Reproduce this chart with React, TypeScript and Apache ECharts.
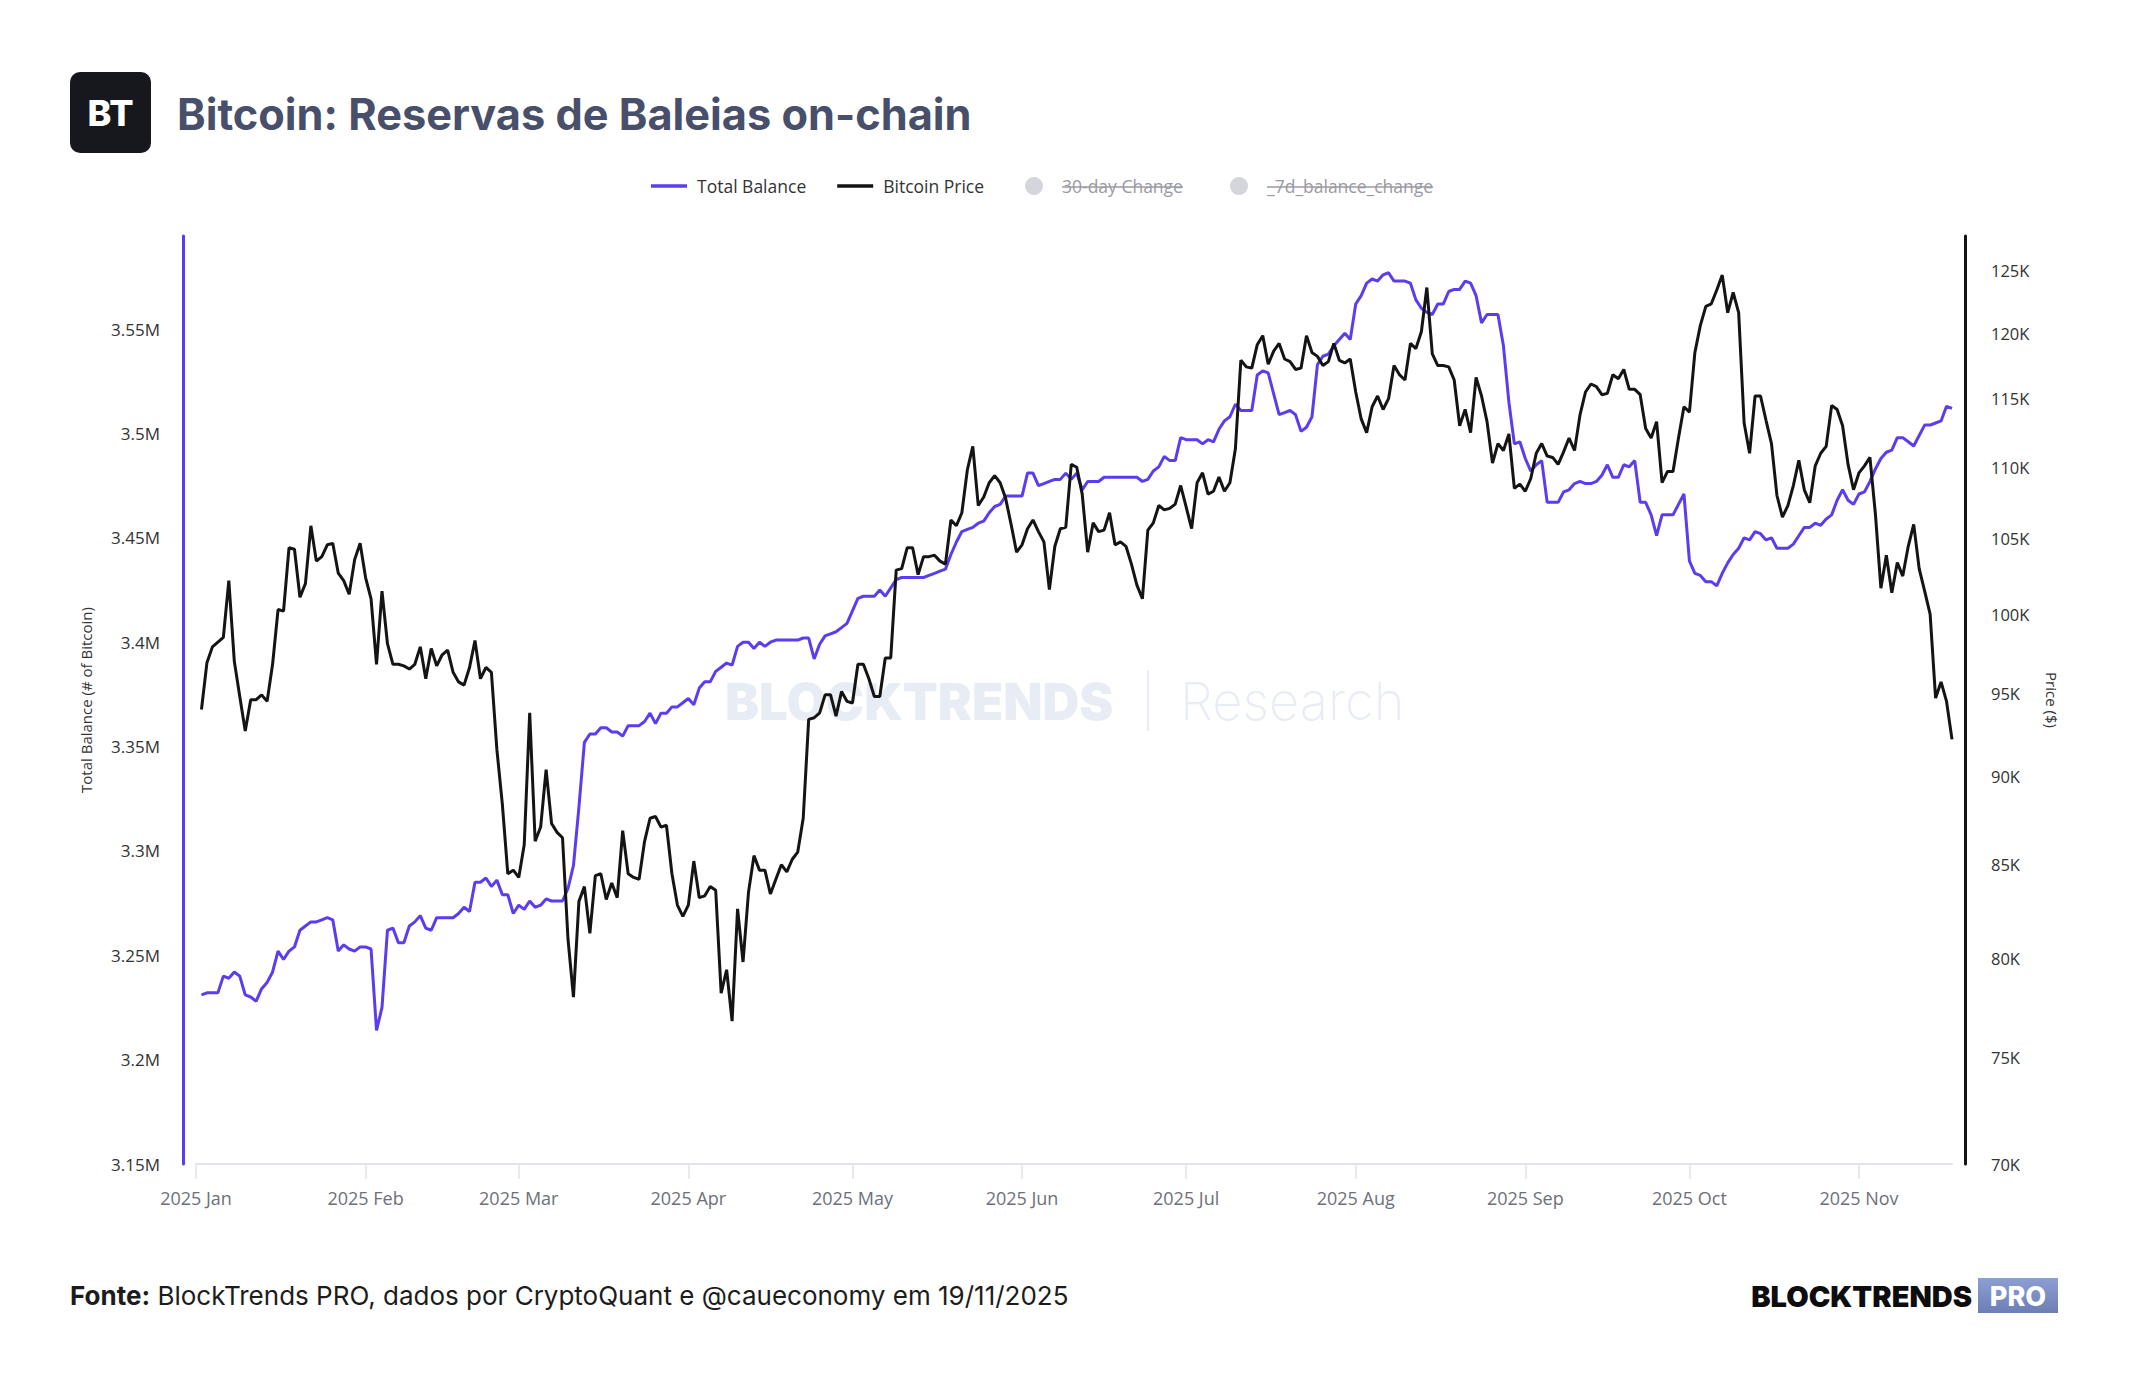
import React, { useEffect, useRef } from "react";
import * as echarts from "echarts";

// Daily whale reserve (millions of BTC) and BTC price (thousands of USD), from 2025-01-02 to 2025-11-18
const totalBalanceM = [
  3.231, 3.232, 3.232, 3.232, 3.240, 3.239, 3.242, 3.240, 3.231, 3.230,
  3.228, 3.234, 3.237, 3.242, 3.252, 3.248, 3.252, 3.254, 3.262, 3.264,
  3.266, 3.266, 3.267, 3.268, 3.267, 3.252, 3.255, 3.253, 3.252, 3.254,
  3.254, 3.253, 3.214, 3.225, 3.262, 3.263, 3.256, 3.256, 3.264, 3.266,
  3.269, 3.263, 3.262, 3.268, 3.268, 3.268, 3.268, 3.270, 3.273, 3.271,
  3.285, 3.285, 3.287, 3.283, 3.286, 3.279, 3.279, 3.270, 3.274, 3.272,
  3.276, 3.273, 3.274, 3.277, 3.276, 3.276, 3.276, 3.282, 3.293, 3.321,
  3.352, 3.356, 3.356, 3.359, 3.359, 3.357, 3.357, 3.355, 3.360, 3.360,
  3.360, 3.362, 3.366, 3.361, 3.366, 3.366, 3.369, 3.369, 3.371, 3.373,
  3.370, 3.378, 3.381, 3.381, 3.386, 3.388, 3.390, 3.389, 3.398, 3.400,
  3.400, 3.397, 3.400, 3.398, 3.400, 3.401, 3.401, 3.401, 3.401, 3.401,
  3.402, 3.402, 3.392, 3.399, 3.403, 3.404, 3.405, 3.407, 3.409, 3.415,
  3.421, 3.422, 3.422, 3.422, 3.425, 3.422, 3.426, 3.430, 3.431, 3.431,
  3.431, 3.431, 3.431, 3.432, 3.433, 3.434, 3.435, 3.442, 3.448, 3.453,
  3.454, 3.455, 3.457, 3.458, 3.462, 3.465, 3.466, 3.470, 3.470, 3.470,
  3.470, 3.481, 3.481, 3.475, 3.476, 3.477, 3.478, 3.478, 3.481, 3.478,
  3.481, 3.473, 3.477, 3.477, 3.477, 3.479, 3.479, 3.479, 3.479, 3.479,
  3.479, 3.479, 3.477, 3.478, 3.482, 3.484, 3.489, 3.487, 3.487, 3.498,
  3.497, 3.497, 3.497, 3.495, 3.497, 3.496, 3.502, 3.506, 3.508, 3.514,
  3.511, 3.511, 3.511, 3.528, 3.530, 3.529, 3.519, 3.509, 3.510, 3.511,
  3.509, 3.501, 3.503, 3.508, 3.533, 3.537, 3.538, 3.542, 3.545, 3.548,
  3.545, 3.562, 3.566, 3.572, 3.574, 3.573, 3.576, 3.577, 3.573, 3.573,
  3.573, 3.572, 3.564, 3.560, 3.558, 3.557, 3.562, 3.562, 3.568, 3.569,
  3.569, 3.573, 3.572, 3.566, 3.553, 3.557, 3.557, 3.557, 3.542, 3.515,
  3.495, 3.496, 3.488, 3.482, 3.485, 3.487, 3.467, 3.467, 3.467, 3.472,
  3.473, 3.476, 3.477, 3.476, 3.476, 3.477, 3.480, 3.485, 3.479, 3.479,
  3.485, 3.484, 3.487, 3.467, 3.467, 3.461, 3.451, 3.461, 3.461, 3.461,
  3.466, 3.471, 3.439, 3.433, 3.432, 3.429, 3.429, 3.427, 3.433, 3.438,
  3.442, 3.445, 3.450, 3.449, 3.453, 3.452, 3.449, 3.450, 3.445, 3.445,
  3.445, 3.447, 3.451, 3.455, 3.455, 3.457, 3.456, 3.459, 3.461, 3.468,
  3.473, 3.468, 3.466, 3.471, 3.472, 3.477, 3.483, 3.488, 3.491, 3.492,
  3.498, 3.498, 3.496, 3.494, 3.499, 3.504, 3.504, 3.505, 3.506, 3.513,
  3.512,
];

const bitcoinPriceK = [
  94.0, 96.9, 97.9, 98.2, 98.5, 102.2, 97.0, 94.8, 92.7, 94.6,
  94.6, 94.9, 94.5, 96.8, 100.3, 100.2, 104.4, 104.3, 101.1, 102.0,
  105.9, 103.5, 103.8, 104.6, 104.7, 102.7, 102.2, 101.3, 103.6, 104.7,
  102.4, 101.0, 96.8, 101.5, 98.1, 96.8, 96.8, 96.7, 96.5, 96.8,
  97.9, 95.9, 97.8, 96.7, 97.4, 97.7, 96.3, 95.7, 95.5, 96.6,
  98.3, 95.9, 96.6, 96.3, 91.6, 88.4, 84.5, 84.7, 84.3, 86.1,
  93.8, 86.3, 87.1, 90.4, 87.3, 86.8, 86.5, 81.0, 78.0, 83.0,
  83.8, 81.3, 84.4, 84.5, 83.1, 84.0, 83.2, 86.9, 84.5, 84.3,
  84.2, 86.3, 87.6, 87.7, 87.1, 87.2, 84.5, 82.8, 82.2, 82.8,
  85.2, 83.2, 83.3, 83.8, 83.6, 78.2, 79.4, 76.8, 82.6, 79.8,
  83.5, 85.5, 84.7, 84.7, 83.4, 84.2, 85.0, 84.6, 85.3, 85.7,
  87.6, 93.4, 93.5, 93.8, 94.9, 94.9, 93.6, 95.1, 94.5, 94.4,
  96.8, 96.8, 95.9, 94.8, 94.8, 97.2, 97.2, 102.9, 103.0, 104.4,
  104.4, 102.6, 103.8, 103.8, 103.9, 103.5, 103.3, 106.3, 105.9, 106.8,
  109.8, 111.5, 107.3, 107.9, 108.9, 109.4, 108.9, 107.8, 106.0, 104.1,
  104.6, 105.7, 106.3, 105.5, 104.8, 101.6, 104.5, 105.7, 105.8, 110.2,
  110.0, 108.1, 104.1, 106.1, 105.5, 105.6, 106.8, 104.6, 104.8, 104.5,
  103.3, 101.9, 101.0, 105.6, 106.1, 107.3, 107.0, 107.1, 107.4, 108.7,
  107.2, 105.7, 108.9, 109.6, 108.1, 108.3, 109.3, 108.3, 108.9, 111.3,
  117.9, 117.4, 117.3, 119.1, 119.8, 117.6, 118.6, 119.2, 118.0, 117.8,
  117.2, 117.3, 119.8, 118.5, 118.2, 117.5, 117.8, 119.2, 117.9, 117.7,
  118.0, 115.5, 113.5, 112.5, 114.4, 115.2, 114.2, 115.0, 117.5, 116.8,
  116.4, 119.2, 118.8, 120.1, 123.6, 118.4, 117.5, 117.5, 117.4, 116.4,
  113.0, 114.2, 112.5, 116.6, 115.2, 113.3, 110.3, 111.7, 111.2, 112.4,
  108.5, 108.8, 108.3, 109.2, 111.0, 111.7, 110.8, 110.7, 110.2, 111.1,
  112.1, 111.2, 113.8, 115.5, 116.1, 115.9, 115.3, 115.4, 116.8, 116.5,
  117.2, 115.7, 115.7, 115.3, 112.8, 112.1, 113.3, 108.9, 109.7, 109.7,
  112.1, 114.4, 114.0, 118.5, 120.6, 122.1, 122.3, 123.4, 124.6, 121.6,
  123.2, 121.6, 113.2, 111.0, 115.2, 115.2, 113.4, 111.7, 108.0, 106.5,
  107.3, 108.7, 110.5, 108.4, 107.5, 110.1, 111.0, 111.5, 114.5, 114.2,
  113.0, 110.2, 108.4, 109.6, 110.1, 110.7, 106.7, 101.7, 103.9, 101.4,
  103.4, 102.5, 104.5, 106.0, 103.0, 101.5, 100.0, 94.7, 95.7, 94.5,
  92.2,
];

const firstDay = Date.UTC(2025, 0, 2);
const dayMs = 86400000;

// x axis: month starts and their labels
const monthTicks = [
  Date.UTC(2025, 0, 1), Date.UTC(2025, 1, 1), Date.UTC(2025, 2, 1), Date.UTC(2025, 3, 1),
  Date.UTC(2025, 4, 1), Date.UTC(2025, 5, 1), Date.UTC(2025, 6, 1), Date.UTC(2025, 7, 1),
  Date.UTC(2025, 8, 1), Date.UTC(2025, 9, 1), Date.UTC(2025, 10, 1),
];
const monthLabels = [
  "2025 Jan", "2025 Feb", "2025 Mar", "2025 Apr", "2025 May", "2025 Jun",
  "2025 Jul", "2025 Aug", "2025 Sep", "2025 Oct", "2025 Nov",
];
const xRange = [Date.UTC(2025, 0, 1), Date.UTC(2025, 10, 18)];

// left axis (millions of BTC) and right log axis (thousands of USD)
const balanceRange = [3.15, 3.5946];
const balanceStep = 0.05;
const priceTicksK = [70, 75, 80, 85, 90, 95, 100, 105, 110, 115, 120, 125];
const priceRange = [70, 127.8];

const seriesNames = ["Total Balance", "Bitcoin Price", "30-day Change", "_7d_balance_change"];
const hiddenNames = ["30-day Change", "_7d_balance_change"];

const PURPLE = "#5b3cf0";
const INK = "#141414";
const LABEL_FONT = "Open Sans";
const BRAND_FONT = "Inter";
const MARK = "#e8edf5";
const OFF_TEXT = "#9a9aa2";
const LINE_ICON = "path://M0 0H36V3.5H0Z";

// legend row: three groups, each starting at its own left edge
const legendGroups = [
  { left: 651, names: ["Total Balance", "Bitcoin Price"] },
  { left: 1016, names: ["30-day Change"] },
  { left: 1221, names: ["_7d_balance_change"] },
];
const LEGEND_ICON_W = 36;
const LEGEND_ICON_H = 18;
const LEGEND_TEXT_OFFSET = 10;
const LEGEND_MID_Y = 186;
const LEGEND_FONT_SIZE = 17.5;

function textWidth(text: string) {
  const ctx = document.createElement("canvas").getContext("2d");
  if (!ctx) return text.length * 8;
  ctx.font = `${LEGEND_FONT_SIZE}px "${LABEL_FONT}"`;
  return ctx.measureText(text).width;
}

export default function App() {
  const ref = useRef<HTMLDivElement>(null);

  useEffect(() => {
    if (!ref.current) return;
    const chart = echarts.init(ref.current, null, { renderer: "svg", width: 2144, height: 1400 });

    const balanceData = totalBalanceM.map((v, i) => [firstDay + i * dayMs, v]);
    const priceData = bitcoinPriceK.map((v, i) => [firstDay + i * dayMs, v]);

    const legends = legendGroups.map((g) => {
      const off = hiddenNames.includes(g.names[0]);
      // a round icon sits centred in its box, so the group's visible left edge moves inward
      const inset = off ? (LEGEND_ICON_W - LEGEND_ICON_H) / 2 : 0;
      return {
        left: g.left + inset,
        top: LEGEND_MID_Y - LEGEND_ICON_H / 2,
        padding: 0,
        itemWidth: LEGEND_ICON_W,
        itemHeight: LEGEND_ICON_H,
        itemGap: 31,
        inactiveColor: "#d5d5de",
        data: g.names.map((name) => ({ name, icon: off ? "circle" : LINE_ICON })),
        selected: Object.fromEntries(hiddenNames.map((n) => [n, false])),
        formatter: (name: string) => (hiddenNames.includes(name) ? `{off|${name}}` : name),
        textStyle: {
          fontFamily: LABEL_FONT,
          fontSize: LEGEND_FONT_SIZE,
          color: "#333333",
          padding: [0, 0, 0, LEGEND_TEXT_OFFSET - 5],
          rich: { off: { fontFamily: LABEL_FONT, fontSize: LEGEND_FONT_SIZE, color: OFF_TEXT } },
        },
      };
    });

    // strike-through lines over the hidden entries' labels
    const strikes = legendGroups
      .filter((g) => hiddenNames.includes(g.names[0]))
      .map((g) => {
        const x1 = g.left + LEGEND_ICON_W + LEGEND_TEXT_OFFSET;
        return {
          type: "line",
          z: 10,
          shape: { x1, y1: LEGEND_MID_Y + 1, x2: x1 + textWidth(g.names[0]), y2: LEGEND_MID_Y + 1 },
          style: { stroke: OFF_TEXT, lineWidth: 1.5 },
        };
      });

    chart.setOption({
      animation: false,
      backgroundColor: "#ffffff",
      title: {
        text: "Bitcoin: Reservas de Baleias on-chain",
        left: 172,
        top: 87,
        textStyle: { fontFamily: BRAND_FONT, fontWeight: 700, fontSize: 43.3, color: "#474f6b" },
      },
      legend: legends,
      grid: { left: 196, right: 192, top: 236, bottom: 236, containLabel: false },
      xAxis: {
        type: "value",
        min: xRange[0],
        max: xRange[1],
        axisLine: { show: true, lineStyle: { color: "#e0e3ea", width: 2 } },
        axisTick: { show: true, customValues: monthTicks, length: 15, lineStyle: { color: "#e0e3ea", width: 1.5 } },
        axisLabel: {
          customValues: monthTicks,
          formatter: (v: number) => {
            const i = monthTicks.indexOf(v);
            return i >= 0 ? monthLabels[i] : "";
          },
          color: "#6e7079",
          fontFamily: LABEL_FONT,
          fontSize: 18,
          margin: 25,
        },
        splitLine: { show: false },
      },
      yAxis: [
        {
          type: "value",
          position: "left",
          offset: 13,
          min: balanceRange[0],
          max: balanceRange[1],
          interval: balanceStep,
          name: "Total Balance (# of Bitcoin)",
          nameLocation: "middle",
          nameGap: 90,
          nameTextStyle: { fontFamily: LABEL_FONT, fontSize: 15, color: "#333333" },
          axisLine: { show: true, lineStyle: { color: PURPLE, width: 3 } },
          axisTick: { show: false },
          splitLine: { show: false },
          axisLabel: {
            showMaxLabel: false,
            formatter: (v: number) => `${parseFloat(v.toFixed(2))}M`,
            color: "#333333",
            fontFamily: LABEL_FONT,
            fontSize: 17,
            margin: 23,
          },
        },
        {
          type: "log",
          position: "right",
          offset: 13,
          min: priceRange[0],
          max: priceRange[1],
          name: "Price ($)",
          nameLocation: "middle",
          nameRotate: -90,
          nameGap: 79,
          nameTextStyle: { fontFamily: LABEL_FONT, fontSize: 15, color: "#333333" },
          axisLine: { show: true, lineStyle: { color: INK, width: 3 } },
          axisTick: { show: false },
          splitLine: { show: false },
          minorSplitLine: { show: false },
          axisLabel: {
            customValues: priceTicksK,
            formatter: (v: number) => `${Math.round(v)}K`,
            color: "#333333",
            fontFamily: LABEL_FONT,
            fontSize: 16.5,
            margin: 26,
          },
        },
      ],
      series: [
        {
          name: seriesNames[0],
          type: "line",
          yAxisIndex: 0,
          data: balanceData,
          symbol: "none",
          showSymbol: false,
          lineStyle: { color: PURPLE, width: 3 },
          itemStyle: { color: PURPLE },
          z: 3,
        },
        {
          name: seriesNames[1],
          type: "line",
          yAxisIndex: 1,
          data: priceData,
          symbol: "none",
          showSymbol: false,
          lineStyle: { color: INK, width: 3 },
          itemStyle: { color: INK },
          z: 4,
        },
        { name: seriesNames[2], type: "line", yAxisIndex: 0, data: [], symbol: "none", itemStyle: { color: "#7a8cff" } },
        { name: seriesNames[3], type: "line", yAxisIndex: 0, data: [], symbol: "none", itemStyle: { color: "#ff9f43" } },
      ],
      graphic: [
        // brand badge
        { type: "rect", shape: { x: 70, y: 72, width: 81, height: 81, r: 10 }, style: { fill: "#16181d" } },
        {
          type: "text",
          x: 110.5,
          y: 113,
          style: {
            text: "BT",
            fill: "#ffffff",
            fontFamily: BRAND_FONT,
            fontWeight: 800,
            fontSize: 36,
            align: "center",
            verticalAlign: "middle",
          },
        },
        // watermark
        {
          type: "text",
          x: 725,
          y: 701,
          z: 0,
          style: {
            text: "BLOCKTRENDS",
            fill: MARK,
            fontFamily: BRAND_FONT,
            fontWeight: 900,
            fontSize: 51,
            verticalAlign: "middle",
          },
        },
        { type: "line", z: 0, shape: { x1: 1148, y1: 670, x2: 1148, y2: 731 }, style: { stroke: MARK, lineWidth: 2 } },
        {
          type: "text",
          x: 1180,
          y: 701,
          z: 0,
          style: {
            text: "Research",
            fill: MARK,
            fontFamily: BRAND_FONT,
            fontWeight: 200,
            fontSize: 52.5,
            verticalAlign: "middle",
          },
        },
        ...strikes,
        // footer
        {
          type: "text",
          x: 70,
          y: 1295,
          style: {
            text: "{b|Fonte:} BlockTrends PRO, dados por CryptoQuant e @caueconomy em 19/11/2025",
            fill: "#1c1c1c",
            fontFamily: BRAND_FONT,
            fontSize: 26,
            verticalAlign: "middle",
            rich: { b: { fontFamily: BRAND_FONT, fontWeight: 700, fontSize: 26, fill: "#1c1c1c" } },
          },
        },
        {
          type: "text",
          x: 1972,
          y: 1296,
          style: {
            text: "BLOCKTRENDS",
            fill: "#0d0d0d",
            fontFamily: BRAND_FONT,
            fontWeight: 900,
            fontSize: 29,
            align: "right",
            verticalAlign: "middle",
          },
        },
        {
          type: "rect",
          shape: { x: 1978, y: 1278, width: 80, height: 35 },
          style: {
            fill: new echarts.graphic.LinearGradient(0, 0, 0, 1, [
              { offset: 0, color: "#8c9ed2" },
              { offset: 1, color: "#6c7eb4" },
            ]),
          },
        },
        {
          type: "text",
          x: 2018,
          y: 1296,
          style: {
            text: "PRO",
            fill: "#ffffff",
            fontFamily: BRAND_FONT,
            fontWeight: 800,
            fontSize: 27,
            align: "center",
            verticalAlign: "middle",
          },
        },
      ],
    });

    return () => chart.dispose();
  }, []);

  return (
    <div
      ref={ref}
      style={{ position: "fixed", left: 0, top: 0, width: 2144, height: 1400, background: "#ffffff" }}
    />
  );
}
